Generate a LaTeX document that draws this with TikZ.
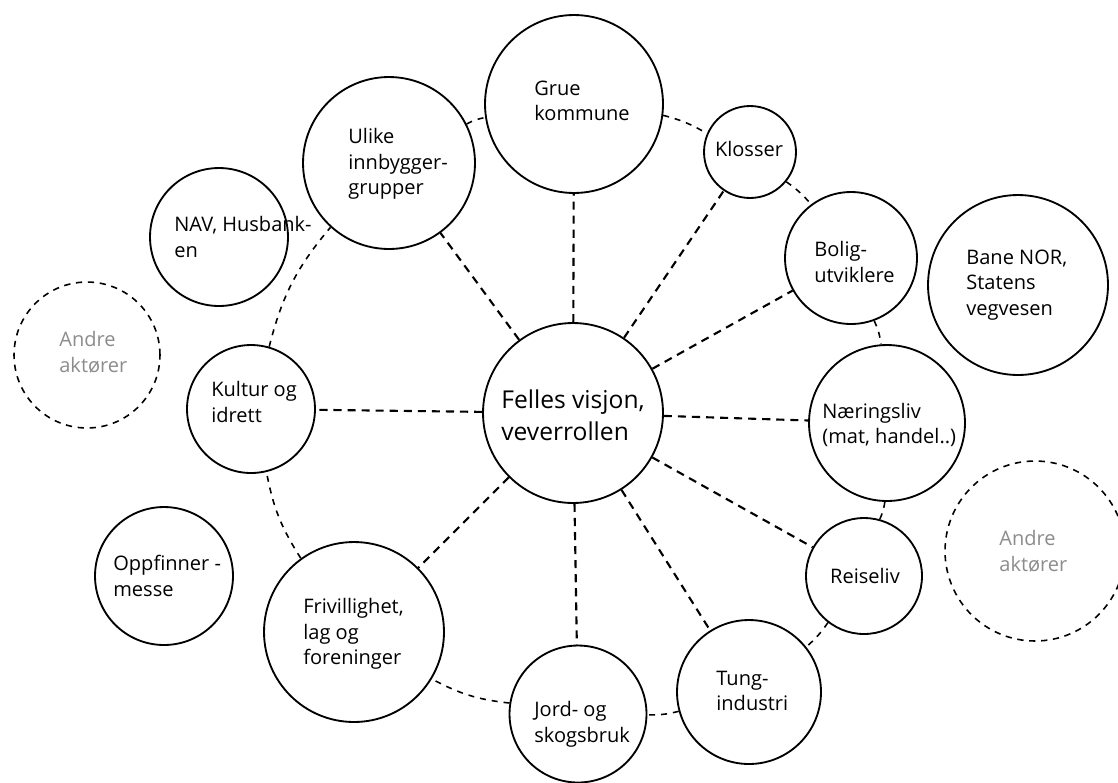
\documentclass[tikz,border=0pt]{standalone}
\usepackage{fontspec}
\setmainfont{Open Sans}
\definecolor{faded}{RGB}{140,140,140}
\tikzset{
  bubble/.style={draw,circle,line width=1.05pt,inner sep=0pt},
  dashbubble/.style={draw,circle,line width=0.9pt,inner sep=0pt,dash pattern=on 3.6pt off 3.2pt},
  spoke/.style={line width=1.2pt,dash pattern=on 4.6pt off 3.4pt},
  ring/.style={line width=0.9pt,dash pattern=on 3.4pt off 3.4pt},
  lbl/.style={align=left,anchor=west,inner sep=0pt,font=\fontsize{11.4}{14.6}\selectfont},
}
\begin{document}
\begin{tikzpicture}[x=0.02cm,y=-0.02cm]
\useasboundingbox (0,0) rectangle (1118,782);
% circles
\node[bubble,minimum size=3.6cm] (felles) at (573,413) {};
\node[bubble,minimum size=3.56cm] (grue) at (574,104) {};
\node[bubble,minimum size=1.84cm] (klosser) at (750,152) {};
\node[bubble,minimum size=2.64cm] (bolig) at (851,258) {};
\node[bubble,minimum size=3.6cm] (bane) at (1018,285) {};
\node[bubble,minimum size=3.12cm] (naering) at (887,423) {};
\node[bubble,minimum size=2.32cm] (reise) at (864,576) {};
\node[dashbubble,minimum size=3.6cm] (andreR) at (1035,551) {};
\node[bubble,minimum size=2.88cm] (tung) at (749,692) {};
\node[bubble,minimum size=2.74cm] (jord) at (578,714) {};
\node[bubble,minimum size=3.6cm] (friv) at (354,632) {};
\node[bubble,minimum size=2.76cm] (oppf) at (164,576) {};
\node[bubble,minimum size=2.56cm] (kultur) at (251,409) {};
\node[dashbubble,minimum size=2.92cm] (andreL) at (87,355) {};
\node[bubble,minimum size=2.76cm] (nav) at (219,237) {};
\node[bubble,minimum size=3.44cm] (ulike) at (389,163) {};
% texts
\node[lbl,anchor=center,font=\fontsize{14}{18}\selectfont] (felles-txt) at (573,415) {Felles visjon,\\veverrollen};
\node[lbl] (grue-txt) at (534,101) {Grue\\kommune};
\node[lbl,anchor=center] (klosser-txt) at (749,149) {Klosser};
\node[lbl] (bolig-txt) at (814,262) {Bolig-\\utviklere};
\node[lbl] (bane-txt) at (966,285) {Bane NOR,\\Statens\\vegvesen};
\node[lbl] (naering-txt) at (822,425) {Næringsliv\\(mat, handel..)};
\node[lbl,anchor=center] (reise-txt) at (865,576) {Reiseliv};
\node[lbl,text=faded] (andreR-txt) at (999,551) {Andre\\aktører};
\node[lbl] (tung-txt) at (716,691) {Tung-\\industri};
\node[lbl] (jord-txt) at (534,724) {Jord- og\\skogsbruk};
\node[lbl] (friv-txt) at (303,634) {Frivillighet,\\lag og\\foreninger};
\node[lbl] (oppf-txt) at (113,576) {Oppfinner -\\messe};
\node[lbl] (kultur-txt) at (211,402) {Kultur og\\idrett};
\node[lbl,text=faded] (andreL-txt) at (59,352) {Andre\\aktører};
\node[lbl] (nav-txt) at (174,237) {NAV, Husbank-\\en};
\node[lbl] (ulike-txt) at (348,164) {Ulike\\innbygger-\\grupper};
% spokes from the centre
\foreach \n in {grue,klosser,bolig,naering,reise,tung,jord,friv,kultur,ulike}
  \draw[spoke] (felles) -- (\n);
% outer ring
\foreach \a/\b/\bd in {ulike/grue/9,grue/klosser/8,klosser/bolig/7,bolig/naering/8,naering/reise/7,reise/tung/7,tung/jord/8,jord/friv/11,friv/kultur/11,kultur/ulike/13}
  \draw[ring] (\a) to[bend left=\bd] (\b);
\end{tikzpicture}
\end{document}
